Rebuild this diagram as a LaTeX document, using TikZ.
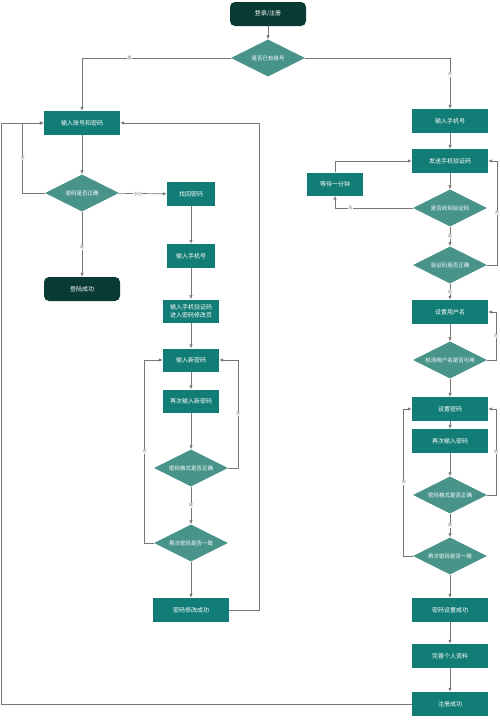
\documentclass[tikz,border=0pt]{standalone}
\usepackage{fontspec}
\newfontfamily\cjk{Noto Sans CJK SC}
\usetikzlibrary{arrows.meta,shapes.geometric}
\definecolor{boxteal}{RGB}{18,124,118}
\definecolor{diateal}{RGB}{72,148,138}
\definecolor{darkteal}{RGB}{10,58,52}
\definecolor{linegray}{RGB}{118,118,118}
\tikzset{
  stepbox/.style={rectangle, fill=boxteal, text=white, align=center,
    font=\cjk\fontsize{6}{7.5}\selectfont, inner sep=1pt,
    minimum width=76, minimum height=24},
  smallbox/.style={stepbox, minimum width=56, minimum height=23},
  tinybox/.style={stepbox, minimum width=48, minimum height=24},
  endbox/.style={stepbox, fill=darkteal, rounded corners=5pt},
  check/.style={diamond, fill=diateal, text=white, aspect=2.2, inner sep=0pt,
    font=\cjk\fontsize{5.5}{6.5}\selectfont, minimum width=74, minimum height=37},
  flow/.style={draw=linegray, line width=0.7pt, -{Latex[length=4pt,width=3.5pt]}},
  lbl/.style={fill=white, inner sep=0.6pt, text=linegray,
    font=\cjk\fontsize{4}{4.5}\selectfont}
}
\begin{document}
\begin{tikzpicture}[x=1pt, y=-1pt]
    \useasboundingbox (0,0) rectangle (500,720);

    % --- top ---
    \node[endbox] (start) at (268,14) {登录/注册};
    \node[check] (hasacc) at (268,58) {是否已有账号};

    % --- login column ---
    \node[stepbox] (login) at (82,123) {输入账号和密码};
    \node[check] (pwright) at (82,193) {密码是否正确};
    \node[endbox] (loginok) at (82,289) {登陆成功};

    % --- recover password column ---
    \node[tinybox] (recover) at (191,194) {找回密码};
    \node[tinybox] (rphone) at (191,256) {输入手机号};
    \node[smallbox] (rcode) at (191,311) {输入手机验证码\\进入密码修改页};
    \node[smallbox] (newpw) at (191,360) {输入新密码};
    \node[smallbox] (newpwagain) at (191,401) {再次输入新密码};
    \node[check] (rformat) at (191,468) {密码格式是否正确};
    \node[check] (rsame) at (191,543) {再次密码是否一致};
    \node[stepbox] (rdone) at (191,610) {密码修改成功};

    % --- register column ---
    \node[stepbox] (phone) at (450,121) {输入手机号};
    \node[stepbox] (sendcode) at (450,161) {发送手机验证码};
    \node[smallbox] (wait) at (335,184) {等待一分钟};
    \node[check] (gotcode) at (450,208) {是否收到验证码};
    \node[check] (coderight) at (450,265) {验证码是否正确};
    \node[stepbox] (uname) at (450,312) {设置用户名};
    \node[check] (unameok) at (450,360) {检测用户名是否可用};
    \node[stepbox] (setpw) at (450,409) {设置密码};
    \node[stepbox] (setpwagain) at (450,441) {再次输入密码};
    \node[check] (format) at (450,495) {密码格式是否正确};
    \node[check] (same) at (450,556) {再次密码是否一致};
    \node[stepbox] (pwset) at (450,610) {密码设置成功};
    \node[stepbox] (profile) at (450,656) {完善个人资料};
    \node[stepbox] (regok) at (450,704) {注册成功};

    % --- straight steps ---
    \foreach \a/\b in {start/hasacc, login/pwright, recover/rphone, rphone/rcode,
        rcode/newpw, newpw/newpwagain, newpwagain/rformat, rsame/rdone,
        phone/sendcode, sendcode/gotcode, uname/unameok, unameok/setpw,
        setpw/setpwagain, setpwagain/format, same/pwset, pwset/profile,
        profile/regok}
      \draw[flow] (\a) -- (\b);

    % --- labelled steps ---
    \draw[flow] (pwright) -- node[pos=0.55, lbl] {是} (loginok);
    \draw[flow] (pwright) -- node[pos=0.4, lbl] {忘记} (recover);
    \draw[flow] (rformat) -- node[lbl] {是} (rsame);
    \draw[flow] (gotcode) -- node[lbl] {是} (coderight);
    \draw[flow] (coderight) -- node[lbl] {是} (uname);
    \draw[flow] (format) -- node[lbl] {是} (same);
    \draw[flow] (hasacc.west) -| node[pos=0.34, lbl] {是} (login.north);
    \draw[flow] (hasacc.east) -| node[pos=0.66, lbl] {否} (phone.north);

    % --- loops back ---
    \draw[flow] (pwright.west) -- ++(-22,0) |- node[pos=0.25, lbl] {否} (login.west);
    \draw[flow] (rformat.east) -- ++(10,0) |- node[pos=0.25, lbl] {否} (newpw.east);
    \draw[flow] (rsame.west) -- ++(-9,0) |- node[pos=0.25, lbl] {否} (newpw.west);
    \draw[flow] (rdone.east) -- ++(30,0) |- (login.east);
    \draw[flow] (regok.west) -- ++(-410,0) |- (login.west);
    \draw[flow] (gotcode.west) -| node[pos=0.4, lbl] {否} (wait.south);
    \draw[flow] (wait.north) |- (sendcode.west);
    \draw[flow] (coderight.east) -- ++(10,0) |- node[pos=0.25, lbl] {否} (sendcode.east);
    \draw[flow] (unameok.east) -- ++(9,0) |- node[pos=0.25, lbl] {否} (uname.east);
    \draw[flow] (format.east) -- ++(9,0) |- node[pos=0.25, lbl] {否} (setpw.east);
    \draw[flow] (same.west) -- ++(-9,0) |- node[pos=0.25, lbl] {否} (setpw.west);
  \end{tikzpicture}
\end{document}
